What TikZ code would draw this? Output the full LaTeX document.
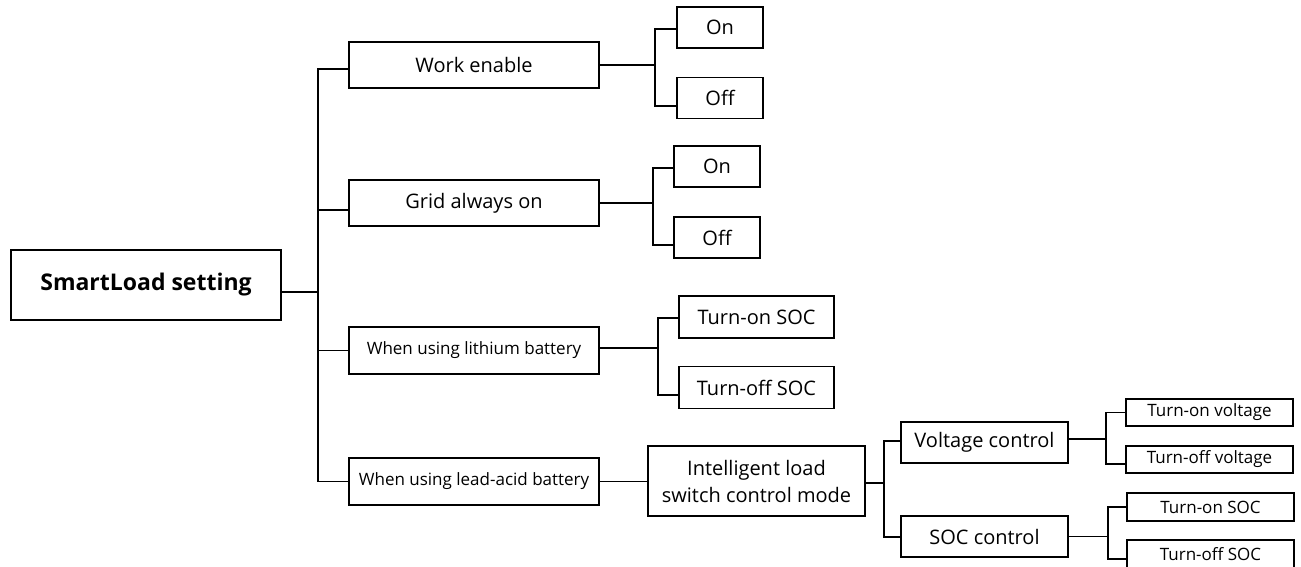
\documentclass[tikz,border=0pt]{standalone}
\usepackage{fontspec}
\setmainfont{Open Sans}
\begin{document}
\begin{tikzpicture}[x=1pt,y=-1pt, line width=1.2pt,
  bx/.style={draw, line width=1.2pt, inner sep=0pt, align=center, text=black},
  big/.style={font=\fontsize{20}{27}\selectfont},
  sml/.style={font=\fontsize{17}{20}\selectfont},
  leftbox/.style={bx, minimum width=250pt, minimum height=46pt},
  onoff/.style={bx, big, minimum width=86pt, minimum height=41pt},
  socbox/.style={bx, big, minimum width=155pt, minimum height=42pt},
  ctlbox/.style={bx, big, minimum width=167pt, minimum height=41pt},
  leafbox/.style={bx, sml, minimum width=167pt, minimum height=28pt}]
\useasboundingbox (0,0) rectangle (1301,567);
\clip (0,0) rectangle (1301,567);
% nodes
\node[bx, minimum width=270pt, minimum height=70pt, font=\bfseries\fontsize{23}{28}\selectfont] (root) at (146,285) {SmartLoad setting};
\node[leftbox, big] (work) at (474,65) {Work enable};
\node[leftbox, big] (grid) at (474,203) {Grid always on};
\node[leftbox, sml, minimum height=47pt] (lith) at (474,350.5) {When using lithium battery};
\node[leftbox, sml, minimum height=47pt] (lead) at (474,481.5) {When using lead-acid battery};
\node[onoff] (on1) at (720,27.5) {On};
\node[onoff] (off1) at (720,98) {Off};
\node[onoff] (on2) at (717,166.5) {On};
\node[onoff] (off2) at (717,237.5) {Off};
\node[socbox] (tons1) at (756.5,317) {Turn-on SOC};
\node[socbox] (toffs1) at (756.5,387.5) {Turn-off SOC};
\node[bx, big, minimum width=217pt, minimum height=70pt] (intel) at (756.5,481) {Intelligent load\\switch control mode};
\node[ctlbox] (volt) at (984.5,442.5) {Voltage control};
\node[ctlbox] (socc) at (984.5,536.5) {SOC control};
\node[leafbox, minimum height=27pt] (tonv) at (1209.5,412.5) {Turn-on voltage};
\node[leafbox, minimum height=27pt] (toffv) at (1209.5,459.5) {Turn-off voltage};
\node[leafbox] (tons2) at (1210.5,507) {Turn-on SOC};
\node[leafbox] (toffs2) at (1210.5,554) {Turn-off SOC};
% branch x positions
\coordinate (tr) at (318,0);
\coordinate (b1) at (655,0);
\coordinate (b2) at (653,0);
\coordinate (b3) at (658,0);
\coordinate (b4) at (884,0);
\coordinate (b5) at (1106,0);
\coordinate (b6) at (1108,0);
% trunk
\draw ([yshift=-7pt]root.east) -- ([yshift=-7pt]root.east -| tr);
\draw ([yshift=-4pt]work.west) -- ([yshift=-4pt]work.west -| tr) -- (lead.west -| tr) -- (lead.west);
\draw ([yshift=-7pt]grid.west) -- ([yshift=-7pt]grid.west -| tr);
\draw (lith.west) -- (lith.west -| tr);
% work enable
\draw (work.east) -- (work.east -| b1);
\draw ([yshift=-1.5pt]on1.west) -- ([yshift=-1.5pt]on1.west -| b1) -- ([yshift=-8pt]off1.west -| b1) -- ([yshift=-8pt]off1.west);
% grid
\draw (grid.east) -- (grid.east -| b2);
\draw ([yshift=-1.5pt]on2.west) -- ([yshift=-1.5pt]on2.west -| b2) -- ([yshift=-7.5pt]off2.west -| b2) -- ([yshift=-7.5pt]off2.west);
% lithium
\draw ([yshift=2.5pt]lith.east) -- ([yshift=2.5pt]lith.east -| b3);
\draw ([yshift=-1pt]tons1.west) -- ([yshift=-1pt]tons1.west -| b3) -- ([yshift=-7.5pt]toffs1.west -| b3) -- ([yshift=-7.5pt]toffs1.west);
% lead-acid
\draw (lead.east) -- (lead.east -| intel.west) -- (intel.west);
\draw ([yshift=-2pt]intel.east) -- ([yshift=-2pt]intel.east -| b4);
\draw ([yshift=1.5pt]volt.west) -- ([yshift=1.5pt]volt.west -| b4) -- ([yshift=-0.5pt]socc.west -| b4) -- ([yshift=-0.5pt]socc.west);
% voltage control
\draw ([yshift=3.5pt]volt.east) -- ([yshift=3.5pt]volt.east -| b5);
\draw (tonv.west) -- (tonv.west -| b5) -- ([yshift=-4.5pt]toffv.west -| b5) -- ([yshift=-4.5pt]toffv.west);
% soc control
\draw (socc.east) -- (socc.east -| b6);
\draw (tons2.west) -- (tons2.west -| b6) -- ([yshift=-5pt]toffs2.west -| b6) -- ([yshift=-5pt]toffs2.west);
\end{tikzpicture}
\end{document}
